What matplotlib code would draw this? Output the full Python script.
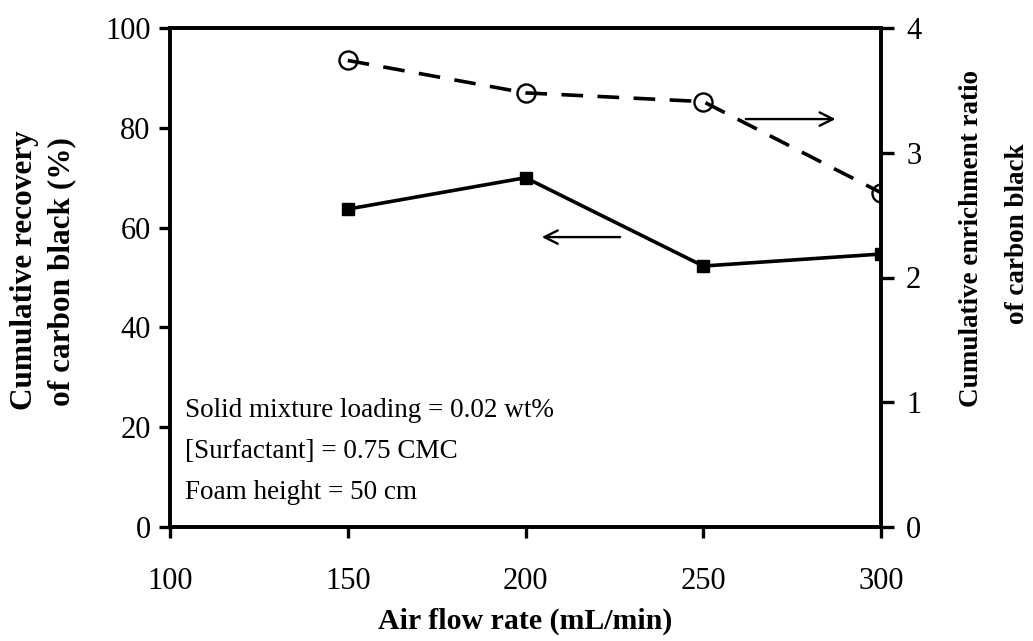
import numpy as np
import matplotlib
matplotlib.use("Agg")
import matplotlib.pyplot as plt

# air flow rate (mL/min)
air_flow = [150, 200, 250, 300]
# cumulative recovery of carbon black (%), left axis
recovery = [63.7, 70.0, 52.3, 54.7]
# cumulative enrichment ratio of carbon black, right axis
enrichment = [3.74, 3.48, 3.41, 2.68]

x_ticks = [100, 150, 200, 250, 300]
left_ticks = [0, 20, 40, 60, 80, 100]
right_ticks = [0, 1, 2, 3, 4]

conditions = ["Solid mixture loading = 0.02 wt%",
              "[Surfactant] = 0.75 CMC",
              "Foam height = 50 cm"]

plt.rcParams['font.family'] = ['Liberation Serif', 'DejaVu Serif']

fig = plt.figure(figsize=(10.33, 6.41), dpi=100)
ax = fig.add_axes([170 / 1033, 1 - 527 / 641, 711 / 1033, 499 / 641])
ax2 = ax.twinx()

ax.plot(air_flow, recovery, color='black', lw=2.6, marker='s', ms=8.5,
        zorder=3)
ax2.plot(air_flow, enrichment, color='black', lw=2.6, dashes=(6, 4),
         marker='o', ms=13, mfc='none', mew=1.7, zorder=3)

ax.set_xlim(100, 300)
ax.set_ylim(0, 100)
ax2.set_ylim(0, 4)
ax.set_xticks(x_ticks)
ax.set_yticks(left_ticks)
ax2.set_yticks(right_ticks)

for a in (ax, ax2):
    for s in a.spines.values():
        s.set_linewidth(2.6)
ax.tick_params(axis='both', direction='out', length=8, width=2.4,
               labelsize=22, pad=6)
ax.tick_params(axis='x', pad=21)
ax2.tick_params(axis='y', direction='out', length=9, width=2.4,
                labelsize=22, pad=9)

# arrows pointing each curve to its axis
ax.annotate("", xy=(203.8, 58.1), xytext=(227.4, 58.1),
            arrowprops=dict(arrowstyle='->', lw=1.7, color='black',
                            mutation_scale=24))
ax2.annotate("", xy=(288.0, 3.27), xytext=(261.2, 3.27),
             arrowprops=dict(arrowstyle='->', lw=1.7, color='black',
                             mutation_scale=24))

for i, line in enumerate(conditions):
    ax.text(104.2, 23.4 - i * 8.2, line, fontsize=19.5, va='center', ha='left')

ax.set_xlabel("Air flow rate (mL/min)", fontsize=21.5, fontweight='bold',
              labelpad=8)

fig.text(25 / 1033, 1 - 270 / 641, "Cumulative recovery", rotation=90,
         fontsize=22.5, fontweight='bold', ha='center', va='center')
fig.text(62 / 1033, 1 - 272 / 641, "of carbon black (%)", rotation=90,
         fontsize=22.5, fontweight='bold', ha='center', va='center')
fig.text(972 / 1033, 1 - 239 / 641, "Cumulative enrichment ratio", rotation=90,
         fontsize=19.5, fontweight='bold', ha='center', va='center')
fig.text(1018 / 1033, 1 - 234 / 641, "of carbon black", rotation=90,
         fontsize=19.5, fontweight='bold', ha='center', va='center')

fig.savefig("out.png", dpi=100)
